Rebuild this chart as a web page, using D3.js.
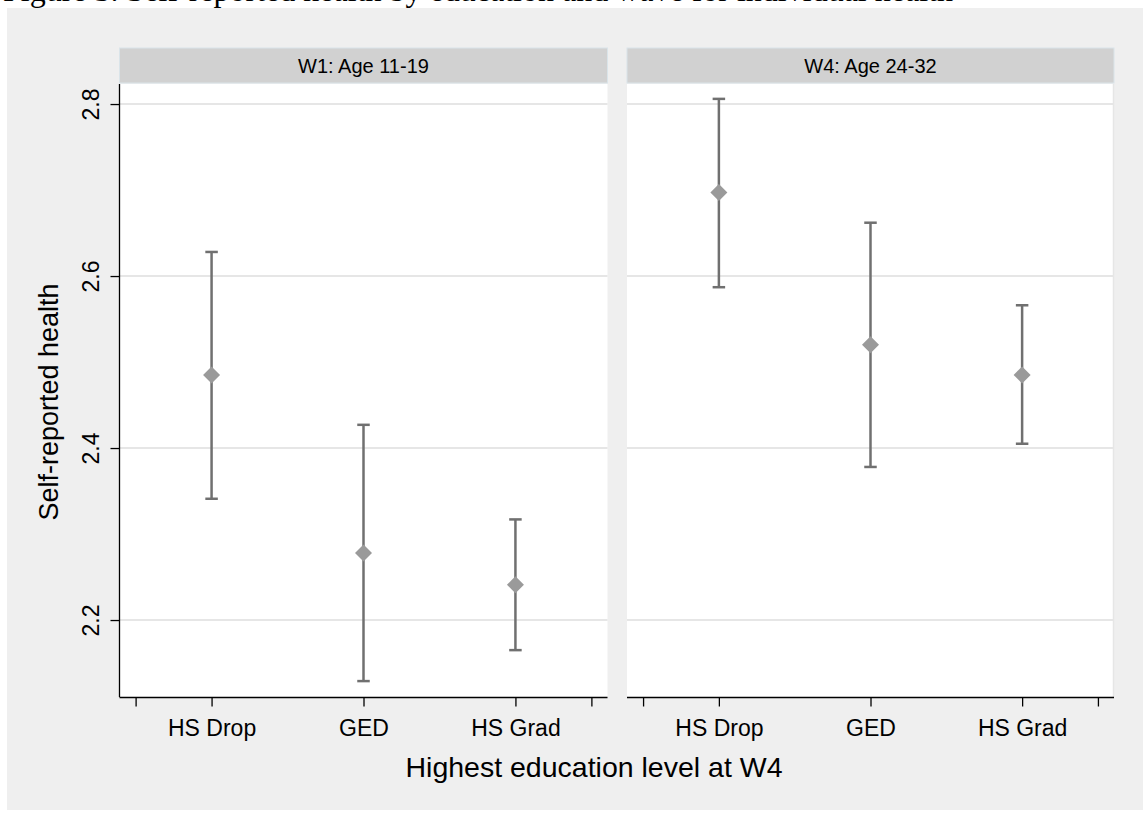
<!DOCTYPE html>
<html>
<head>
<meta charset="utf-8">
<script src="https://cdn.jsdelivr.net/npm/d3@7"></script>
<style>
  html, body { margin: 0; padding: 0; background: #ffffff; }
  svg { display: block; }
  text { font-family: "Liberation Sans", Arial, Helvetica, sans-serif; fill: #000; }
</style>
</head>
<body>
<svg id="chart" width="1143" height="837"></svg>
<script>
// ---- data ----
const categories = ["HS Drop", "GED", "HS Grad"];
const panelTitles = ["W1: Age 11-19", "W4: Age 24-32"];
const w1Mean  = [2.485, 2.278, 2.241];
const w1Lower = [2.341, 2.129, 2.165];
const w1Upper = [2.628, 2.427, 2.317];
const w4Mean  = [2.697, 2.520, 2.485];
const w4Lower = [2.587, 2.378, 2.405];
const w4Upper = [2.806, 2.662, 2.566];
const yTicks = [2.2, 2.4, 2.6, 2.8];
const captionText = "Figure 3. Self-reported health by education and wave for individual health";
const yTitle = "Self-reported health";
const xTitle = "Highest education level at W4";

const panelData = [
  { title: panelTitles[0], mean: w1Mean, lower: w1Lower, upper: w1Upper },
  { title: panelTitles[1], mean: w4Mean, lower: w4Lower, upper: w4Upper }
];

// ---- layout ----
const svg = d3.select("#chart");
const plotTop = 84, plotBottom = 697;
const panelX = [[119.5, 607.5], [627, 1114]];
const stripTop = 48, stripH = 35;

// outer background
svg.append("rect").attr("x", 7).attr("y", 8).attr("width", 1136).attr("height", 802).attr("fill", "#efefef");

// caption (cut off at top edge, as in the source image)
svg.append("text").attr("x", 3).attr("y", 0.5)
  .style("font-family", "'Liberation Serif', 'Times New Roman', serif")
  .style("font-size", "32px").text(captionText);

const y = d3.scaleLinear().domain([2.1105, 2.8233]).range([plotBottom, plotTop]);

panelData.forEach((p, i) => {
  const [x0, x1] = panelX[i];
  const x = d3.scaleLinear().domain([0.394, 3.606]).range([x0, x1]);
  const g = svg.append("g");

  // strip
  g.append("rect").attr("x", x0).attr("y", stripTop).attr("width", x1 - x0).attr("height", stripH)
    .attr("fill", "#d1d1d1").attr("stroke", "#dae4e9").attr("stroke-width", 1);
  g.append("text").attr("x", (x0 + x1) / 2).attr("y", stripTop + stripH / 2 + 7)
    .attr("text-anchor", "middle").style("font-size", "20px").text(p.title);

  // plot area
  g.append("rect").attr("x", x0).attr("y", plotTop).attr("width", x1 - x0).attr("height", plotBottom - plotTop)
    .attr("fill", "#ffffff");
  if (i === 1) {
    g.append("line").attr("x1", x1 - 0.5).attr("x2", x1 - 0.5).attr("y1", plotTop).attr("y2", plotBottom)
      .attr("stroke", "#e6e6e6").attr("stroke-width", 1.5);
  }

  // gridlines
  g.selectAll(".grid").data(yTicks).enter().append("line")
    .attr("x1", x0).attr("x2", x1)
    .attr("y1", d => y(d)).attr("y2", d => y(d))
    .attr("stroke", "#e6e6e6").attr("stroke-width", 2);

  // x axis
  const xAxis = d3.axisBottom(x)
    .tickValues([0.5, 1, 2, 3, 3.5])
    .tickSize(9).tickSizeOuter(0)
    .tickFormat(d => Number.isInteger(d) ? categories[d - 1] : "");
  const ax = g.append("g").attr("transform", `translate(0,${plotBottom + 0.5})`).call(xAxis);
  ax.select(".domain").attr("stroke", "#000").attr("stroke-width", 1.3).attr("d", `M${x0},0H${x1}`);
  ax.selectAll(".tick line").attr("stroke", "#000").attr("stroke-width", 1.3);
  ax.selectAll(".tick text").attr("dy", 0).attr("y", 38)
    .style("font-size", "23px").style("font-family", "'Liberation Sans', Arial, sans-serif").attr("fill", "#000");

  // y axis (panel 1 only)
  if (i === 0) {
    const yAxis = d3.axisLeft(y).tickValues(yTicks).tickSize(9).tickSizeOuter(0).tickFormat(d3.format(".1f"));
    const ay = g.append("g").attr("transform", `translate(${x0},0)`).call(yAxis);
    ay.select(".domain").attr("stroke", "#000").attr("stroke-width", 1.3).attr("d", `M0,${plotTop}V${plotBottom}`);
    ay.selectAll(".tick line").attr("stroke", "#000").attr("stroke-width", 1.3);
    ay.selectAll(".tick text")
      .attr("x", 0).attr("dy", 0)
      .attr("text-anchor", "middle")
      .attr("transform", "translate(-21,0) rotate(-90)")
      .style("font-size", "23px").style("font-family", "'Liberation Sans', Arial, sans-serif").attr("fill", "#000");
  }

  // error bars
  const idx = d3.range(categories.length);
  const capW = 12.5;
  g.selectAll(".whisk").data(idx).enter().append("line")
    .attr("x1", d => x(d + 1)).attr("x2", d => x(d + 1))
    .attr("y1", d => y(p.lower[d])).attr("y2", d => y(p.upper[d]))
    .attr("stroke", "#707070").attr("stroke-width", 2.5);
  ["lower", "upper"].forEach(k => {
    g.selectAll(".cap" + k).data(idx).enter().append("line")
      .attr("x1", d => x(d + 1) - capW / 2).attr("x2", d => x(d + 1) + capW / 2)
      .attr("y1", d => y(p[k][d])).attr("y2", d => y(p[k][d]))
      .attr("stroke", "#707070").attr("stroke-width", 2.5);
  });
  // diamonds
  const r = 8.5;
  g.selectAll(".pt").data(idx).enter().append("path")
    .attr("d", d => {
      const cx = x(d + 1), cy = y(p.mean[d]);
      return `M${cx},${cy - r}L${cx + r},${cy}L${cx},${cy + r}L${cx - r},${cy}Z`;
    })
    .attr("fill", "#9a9a9a");
});

// axis titles
svg.append("text").attr("transform", `translate(58,402) rotate(-90)`)
  .attr("text-anchor", "middle").style("font-size", "27px").text(yTitle);
svg.append("text").attr("x", 594).attr("y", 777)
  .attr("text-anchor", "middle").style("font-size", "28.5px").text(xTitle);
</script>
</body>
</html>
